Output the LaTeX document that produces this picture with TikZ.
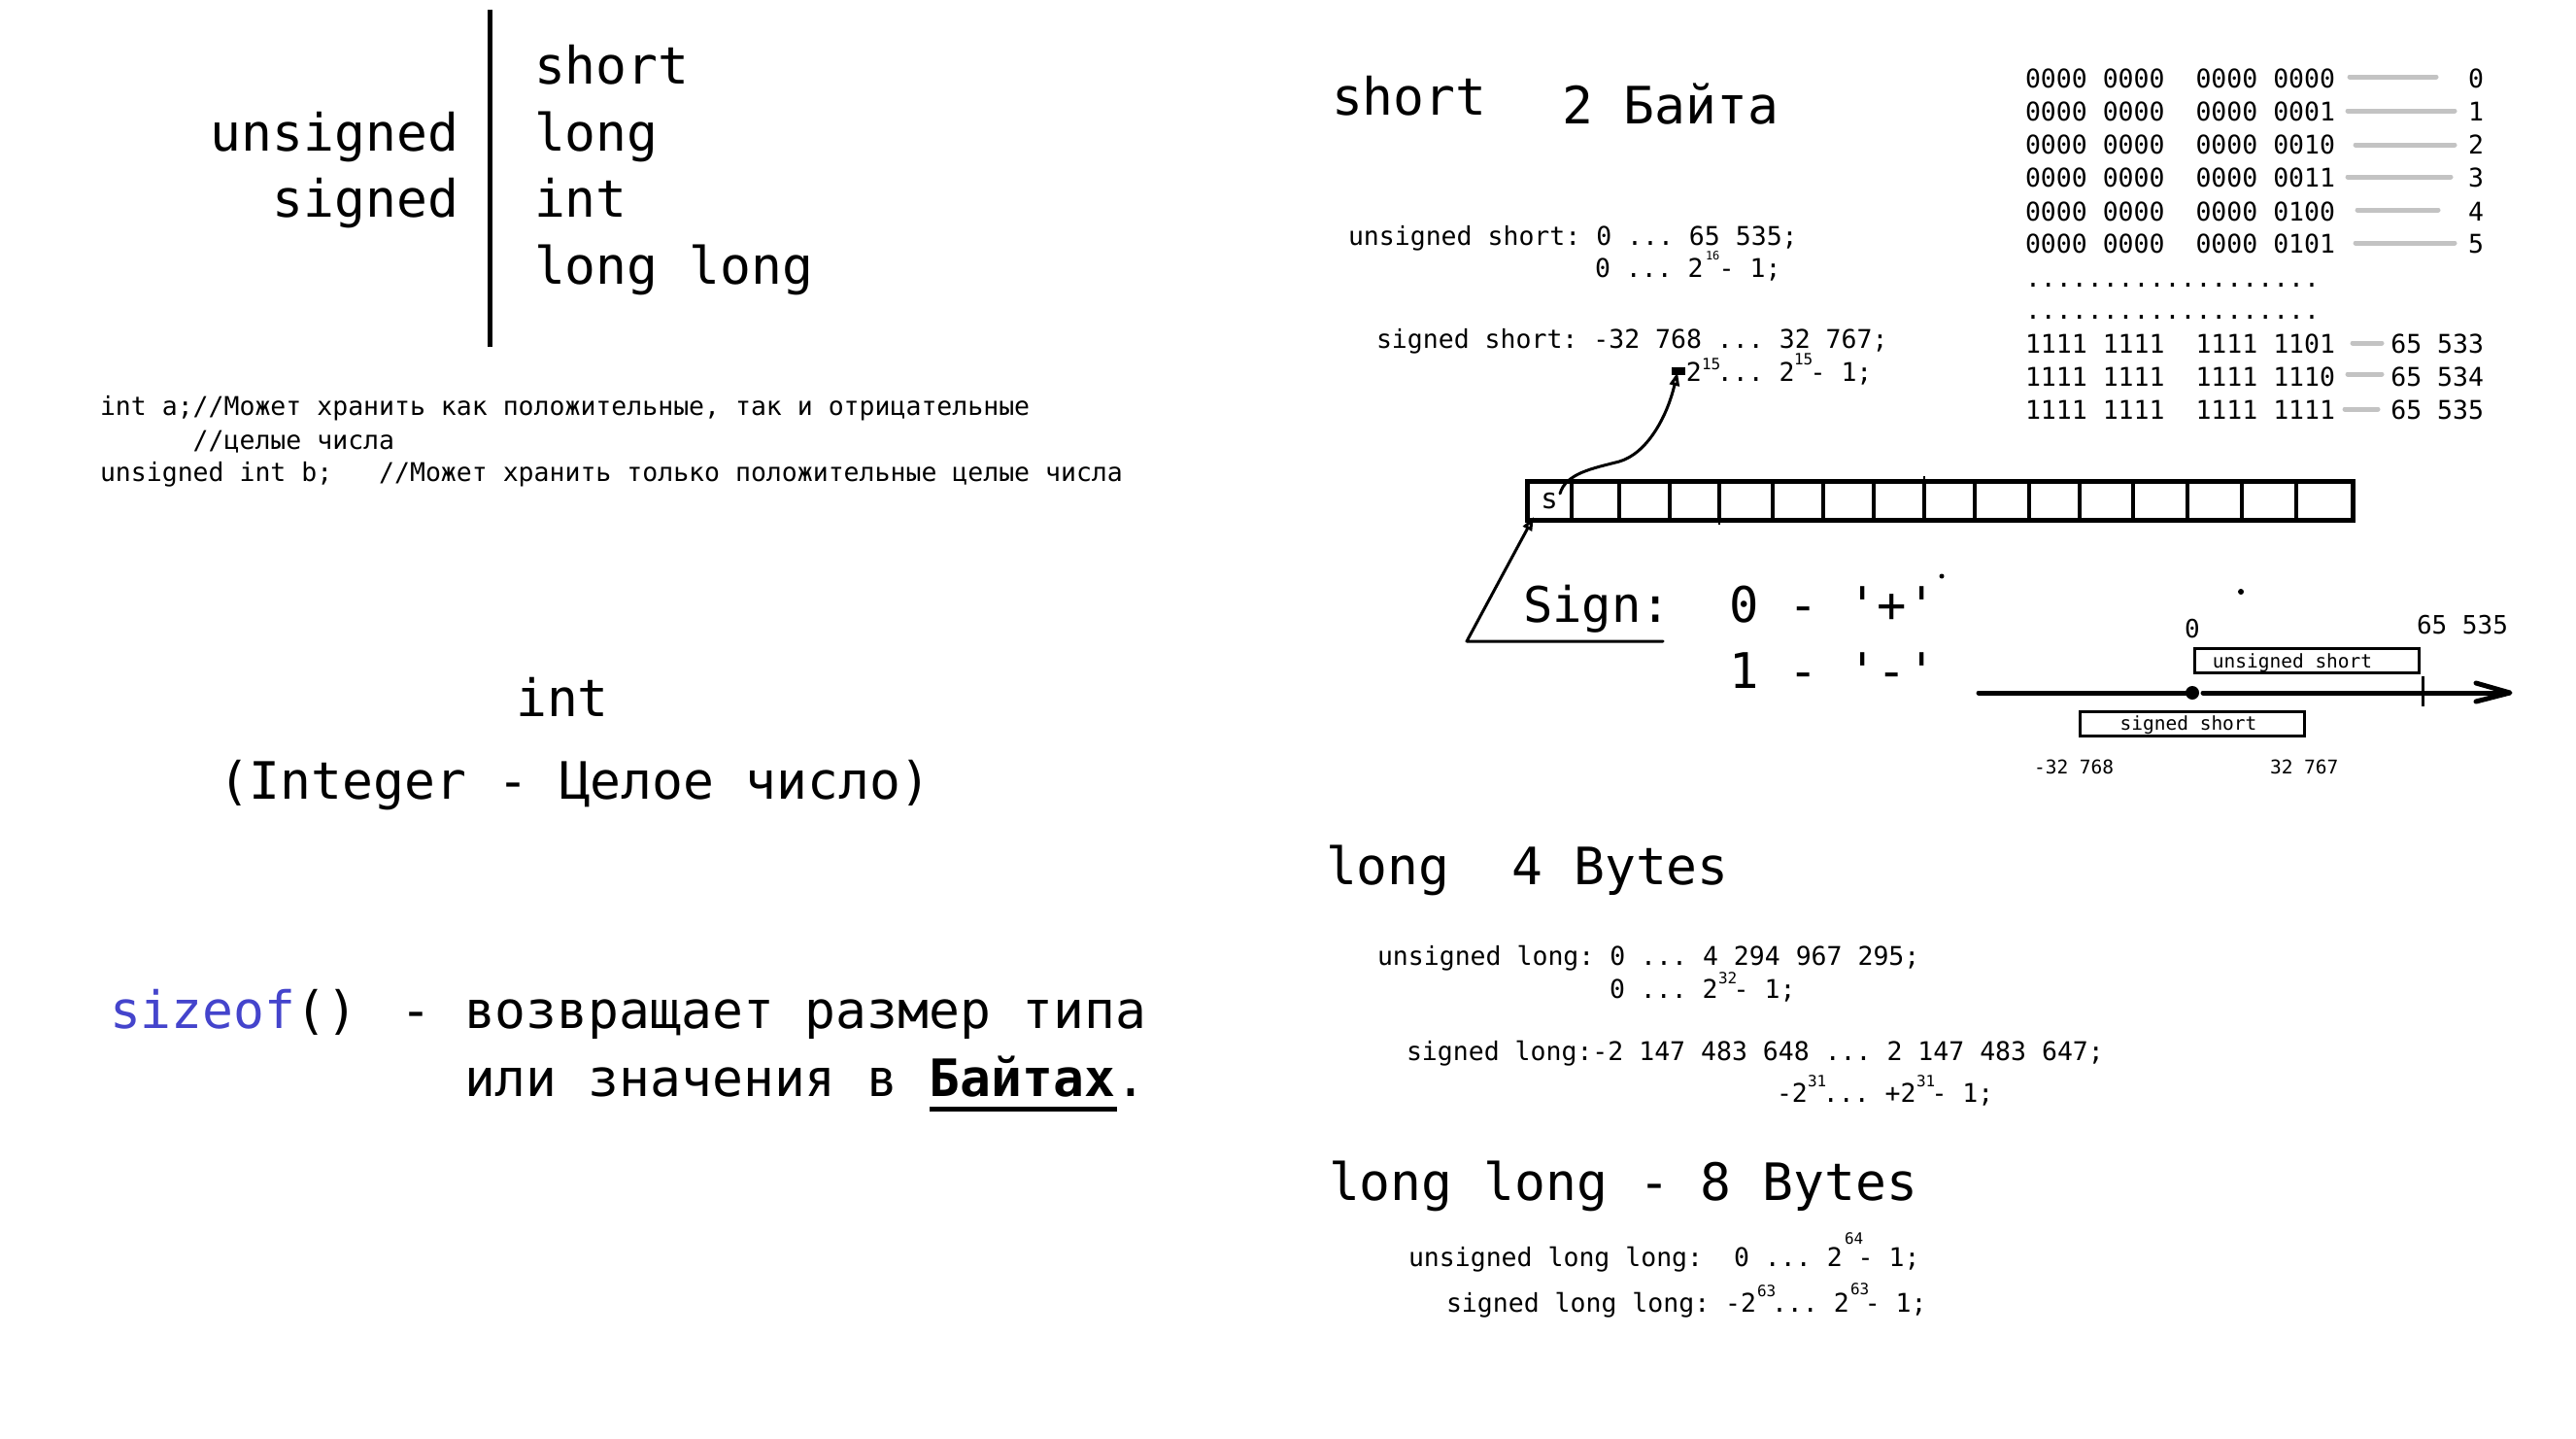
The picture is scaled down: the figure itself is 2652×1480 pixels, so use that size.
\documentclass[tikz,border=0pt]{standalone}
\usepackage{fontspec}
\setmonofont{DejaVu Sans Mono}
\usetikzlibrary{arrows.meta}
\frenchspacing
\definecolor{sizeofblue}{RGB}{68,68,204}
\definecolor{lgray}{RGB}{195,195,195}
\begin{document}
\begin{tikzpicture}[x=1pt,y=-1pt,
  every node/.style={inner sep=0pt,outer sep=0pt},
  big/.style={anchor=base west,font=\ttfamily\fontsize{53}{60}\selectfont},
  signf/.style={anchor=base west,font=\ttfamily\fontsize{50.5}{56}\selectfont},
  med/.style={anchor=base west,font=\ttfamily\fontsize{26.5}{30}\selectfont},
  numr/.style={anchor=base east,font=\ttfamily\fontsize{26.5}{30}\selectfont},
  supx/.style={anchor=base west,font=\ttfamily\fontsize{16}{18}\selectfont},
  tinysup/.style={anchor=base west,font=\ttfamily\fontsize{12}{14}\selectfont},
  axlbl/.style={anchor=base west,font=\ttfamily\fontsize{26}{30}\selectfont},
  smlbl/.style={anchor=base west,font=\ttfamily\fontsize{19.5}{22}\selectfont},
  rangebox/.style={draw,line width=3pt,minimum width=231pt,minimum height=25pt},
  grayline/.style={draw=lgray,line width=5pt,line cap=round},
  pen/.style={line width=3pt,line cap=round,line join=round},
]
\useasboundingbox[fill=white] (0,0) rectangle (2652,1480);

% ---------- top left ----------
\node[big] (tshort) at (550,86) {short};
\node[big] (tlong) at (550,155) {long};
\node[big] (tint) at (550,223) {int};
\node[big] (tll) at (550,292) {long long};
\node[big,anchor=base east] (tuns) at (472,155) {unsigned};
\node[big,anchor=base east] (tsig) at (472,223) {signed};
\draw[line width=5pt] (504,10) -- (504,357);

\node[med] (c1) at (103,427) {int a;//Может хранить как положительные, так и отрицательные};
\node[med] (c2) at (103,462) {~~~~~~//целые числа};
\node[med] (c3) at (103,495) {unsigned int b;~~~//Может хранить только положительные целые числа};

\node[big,anchor=base] (intw) at (579,737) {int};
\node[big,anchor=base] (integer) at (592,822) {(Integer - Целое число)};

\node[big] (sz) at (113,1058) {\textcolor{sizeofblue}{sizeof}()};
\node[big] (szdash) at (412,1058) {-};
\node[big] (ret1) at (478,1058) {возвращает размер типа};
\node[big] (ret2) at (478,1128) {или значения в \textbf{Байтах}.};
\draw[line width=5pt] (957,1141) -- (1150,1141);

% ---------- short ----------
\node[big] (rshort) at (1371,118) {short};
\node[big] (rbytes) at (1608,127) {2 Байта};

\node[med] (b0) at (2085,90) {0000 0000~~0000 0000};
\node[med] (b1) at (2085,124) {0000 0000~~0000 0001};
\node[med] (b2) at (2085,158) {0000 0000~~0000 0010};
\node[med] (b3) at (2085,192) {0000 0000~~0000 0011};
\node[med] (b4) at (2085,227) {0000 0000~~0000 0100};
\node[med] (b5) at (2085,260) {0000 0000~~0000 0101};
\node[med] (d1) at (2085,295) {...................};
\node[med] (d2) at (2085,328) {...................};
\node[med] (b6) at (2085,363) {1111 1111~~1111 1101};
\node[med] (b7) at (2085,397) {1111 1111~~1111 1110};
\node[med] (b8) at (2085,431) {1111 1111~~1111 1111};

\node[numr] (n0) at (2557,90) {0};
\node[numr] (n1) at (2557,124) {1};
\node[numr] (n2) at (2557,158) {2};
\node[numr] (n3) at (2557,192) {3};
\node[numr] (n4) at (2557,227) {4};
\node[numr] (n5) at (2557,260) {5};
\node[numr] (n6) at (2557,363) {65 533};
\node[numr] (n7) at (2557,397) {65 534};
\node[numr] (n8) at (2557,431) {65 535};

\draw[grayline] (2419,79) -- (2508,79);
\draw[grayline] (2417,114) -- (2527,114);
\draw[grayline] (2425,149) -- (2527,149);
\draw[grayline] (2417,182) -- (2523,182);
\draw[grayline] (2427,216) -- (2510,216);
\draw[grayline] (2425,250) -- (2527,250);
\draw[grayline] (2422,353) -- (2452,353);
\draw[grayline] (2417,385) -- (2452,385);
\draw[grayline] (2414,421) -- (2448,421);

\node[med] (us1) at (1388,252) {unsigned short: 0 ... 65 535;};
\node[med] (us2) at (1642,285) {0 ... 2 - 1;};
\node[tinysup] (us2s) at (1756,267) {16};

\node[med] (ss1) at (1417,358) {signed short: -32 768 ... 32 767;};
\node[med] (ss2) at (1720,392) {-2 ... 2 - 1;};
\node[supx] (ss2a) at (1752,380) {15};
\node[supx] (ss2b) at (1847,375) {15};
\fill (1721,378) rectangle (1735,386);

% bit box
\draw[line width=5pt] (1572,495) rectangle (2422,535);
\foreach \xx in {1618,1667,1719,1770,1825,1877,1929,1981,2033,2089,2141,2196,2252,2308,2364}
  \draw[line width=4pt] (\xx,495) -- (\xx,535);
\draw[line width=2pt] (1770,535) -- (1770,540);
\draw[line width=2pt] (1981,495) -- (1981,490);
\node[font=\ttfamily\fontsize{29}{30}\selectfont,anchor=base] (sbit) at (1595,523) {s};

\coordinate (a1s) at (1606,508);
\coordinate (a1e) at (1727,383);
\draw[pen,-{Triangle[open,length=14pt,width=10pt]}] (a1s) .. controls (1612,487) and (1640,482) .. (1667,475)
   .. controls (1695,467) and (1716,430) .. (a1e);

\coordinate (a2h) at (1712,660);
\coordinate (a2c) at (1510,660);
\coordinate (a2e) at (1579,532);
\draw[pen,-{Triangle[open,length=14pt,width=10pt]}] (a2h) -- (a2c) -- (a2e);

\node[signf] (sign1) at (1568,640) {Sign:~~0 - '+'};
\node[signf] (sign2) at (1568,708) {~~~~~~~1 - '-'};
\fill (1999,593) circle (2.5pt);
\fill (2307,609) circle (3pt);

% number line
\draw[line width=5pt,line cap=round] (2037,713) -- (2257,713);
\draw[line width=5pt,line cap=round] (2268,713) -- (2582,713);
\draw[line width=5pt,line cap=round,line join=round] (2549,703) -- (2584,713) -- (2549,722);
\fill (2257,713) circle (7pt);
\draw[line width=3pt] (2494,696) -- (2494,727);
\node[rangebox] (ubox) at (2374.5,679.5) {};
\node[smlbl,anchor=base] (ulbl) at (2360,687) {unsigned short};
\node[rangebox] (sbox) at (2256.5,744.5) {};
\node[smlbl,anchor=base] (slbl) at (2253,751) {signed short};
\node[axlbl,anchor=base] (zero) at (2257,656) {0};
\node[axlbl] (umax) at (2488,652) {65 535};
\node[smlbl] (smin) at (2094,796) {-32 768};
\node[smlbl] (smax) at (2337,796) {32 767};

% ---------- long ----------
\node[big] (lhead) at (1365,910) {long~~4 Bytes};
\node[med] (ul1) at (1418,993) {unsigned long: 0 ... 4 294 967 295;};
\node[med] (ul2) at (1657,1027) {0 ... 2 - 1;};
\node[supx] (ul2s) at (1769,1012) {32};
\node[med] (sl1) at (1448,1091) {signed long:-2 147 483 648 ... 2 147 483 647;};
\node[med] (sl2) at (1829,1134) {-2 ... +2 - 1;};
\node[supx] (sl2a) at (1861,1118) {31};
\node[supx] (sl2b) at (1973,1118) {31};

% ---------- long long ----------
\node[big] (llhead) at (1368,1235) {long long - 8 Bytes};
\node[med] (ull) at (1450,1303) {unsigned long long:~~0 ... 2 - 1;};
\node[supx] (ulls) at (1899,1280) {64};
\node[med] (sll) at (1489,1350) {signed long long: -2 ... 2 - 1;};
\node[supx] (slla) at (1809,1334) {63};
\node[supx] (sllb) at (1905,1332) {63};
\end{tikzpicture}
\end{document}
